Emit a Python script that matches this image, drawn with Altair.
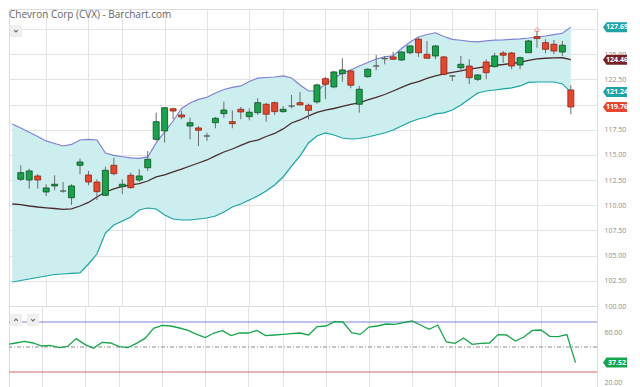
import altair as alt
import pandas as pd

TITLE = "Chevron Corp (CVX) - Barchart.com"

# ---- daily candles (index 0..65) ----
opens = [112.58, 112.51, 112.91, 111.32, 111.92, 111.42, 110.75, 113.97, 113.01, 112.31,
         110.99, 113.97, 111.85, 112.98, 112.51, 113.73, 116.55, 117.38, 119.59, 118.97,
         117.87, 117.68, 116.88, 118.20, 119.10, 118.30, 119.53, 118.80, 119.20, 120.03,
         120.19, 119.30, 119.86, 120.19, 119.93, 120.26, 122.57, 121.75, 123.07, 123.34,
         120.03, 122.77, 123.83, 124.56, 124.73, 124.43, 125.15, 126.49, 124.99, 124.83,
         124.73, 122.84, 123.66, 123.83, 122.51, 124.23, 123.77, 125.12, 125.12, 123.93,
         125.15, 126.75, 126.15, 125.99, 125.22, 121.45]
highs = [113.97, 113.63, 113.08, 112.09, 112.98, 112.31, 112.09, 114.63, 113.41, 112.58,
         113.83, 114.73, 112.58, 113.24, 113.58, 115.39, 119.20, 119.76, 119.69, 119.36,
         118.70, 117.87, 117.21, 118.77, 120.29, 119.43, 119.76, 119.63, 120.63, 120.19,
         120.29, 119.86, 120.95, 121.25, 120.09, 122.08, 122.74, 123.34, 124.60, 123.41,
         121.85, 123.60, 124.93, 124.83, 125.25, 125.32, 125.89, 126.65, 126.32, 125.92,
         124.83, 122.91, 124.83, 124.50, 123.01, 124.50, 125.15, 125.32, 125.22, 124.76,
         126.42, 127.31, 126.49, 126.42, 126.32, 121.92]
lows = [112.41, 111.65, 111.65, 110.92, 111.49, 111.25, 110.03, 113.08, 111.99, 110.53,
        110.92, 112.98, 111.09, 111.65, 112.31, 113.41, 116.39, 116.22, 118.54, 118.54,
        116.55, 115.89, 116.39, 117.65, 118.70, 117.65, 118.54, 118.44, 118.97, 118.30,
        118.97, 119.20, 119.63, 119.96, 118.54, 120.09, 120.53, 121.62, 122.27, 121.62,
        119.20, 122.67, 123.41, 124.00, 124.43, 124.33, 124.99, 124.73, 124.60, 124.50,
        122.91, 122.34, 123.34, 122.02, 122.34, 122.51, 123.66, 124.16, 123.51, 123.51,
        125.15, 125.65, 125.09, 124.99, 124.83, 119.04]
closes = [113.24, 113.41, 112.51, 111.72, 112.09, 111.42, 111.92, 114.30, 112.31, 111.35,
          113.48, 113.14, 112.09, 111.75, 112.91, 114.57, 118.30, 119.69, 119.36, 118.77,
          118.20, 117.45, 116.88, 118.64, 119.46, 118.10, 119.27, 119.24, 120.19, 119.04,
          119.30, 119.53, 119.86, 119.96, 119.43, 121.95, 122.02, 123.24, 123.44, 121.92,
          121.52, 123.51, 123.83, 124.56, 124.50, 125.22, 125.82, 125.15, 124.60, 125.82,
          123.01, 122.84, 124.00, 122.67, 122.94, 123.17, 124.83, 124.90, 123.83, 124.66,
          126.32, 126.55, 125.49, 125.32, 125.89, 119.76]

# ---- Bollinger bands & RSI (index -1..65) ----
upper = [118.07, 117.68, 117.26, 116.83, 116.39, 116.14, 115.89, 116.04, 116.48, 116.55, 116.48,
         115.19, 114.95, 114.82, 114.70, 114.65, 114.80, 116.19, 117.28, 118.37, 119.61,
         120.16, 120.51, 120.73, 121.15, 121.50, 121.70, 121.85, 122.29, 122.62, 122.69,
         122.74, 122.84, 122.64, 121.95, 121.35, 121.35, 122.05, 122.59, 123.14, 123.44,
         123.83, 124.18, 124.53, 124.73, 124.83, 125.57, 126.22, 126.71, 126.96, 127.13,
         126.76, 126.48, 126.39, 126.27, 126.22, 126.32, 126.39, 126.42, 126.47, 126.53,
         126.61, 126.71, 126.81, 126.94, 127.08, 127.69]
middle = [110.13, 110.06, 109.93, 109.83, 109.75, 109.68, 109.60, 109.65, 109.93, 110.28, 110.82,
          111.32, 111.62, 111.87, 112.02, 112.14, 112.41, 112.81, 113.01, 113.31, 113.60,
          113.90, 114.20, 114.50, 114.90, 115.29, 115.59, 115.94, 116.29, 116.48, 116.83,
          117.13, 117.58, 118.17, 118.47, 118.87, 119.22, 119.46, 119.61, 119.81, 120.01,
          120.18, 120.46, 120.71, 121.00, 121.35, 121.70, 122.05, 122.29, 122.59, 122.84,
          123.04, 123.19, 123.34, 123.51, 123.65, 123.78, 123.90, 123.98, 124.08, 124.18,
          124.38, 124.53, 124.60, 124.63, 124.65, 124.46]
lower = [102.38, 102.53, 102.68, 102.83, 102.98, 103.13, 103.18, 103.23, 103.28, 104.17, 105.16,
         107.25, 108.04, 108.44, 108.84, 109.53, 109.73, 109.63, 109.04, 108.64, 108.54,
         108.54, 108.64, 108.74, 108.94, 109.33, 109.83, 110.13, 110.53, 110.92, 111.42,
         112.02, 112.81, 113.90, 114.90, 116.19, 116.88, 117.18, 116.98, 116.68, 116.58,
         116.63, 116.78, 116.98, 117.18, 117.48, 117.87, 118.27, 118.57, 118.77, 119.07,
         119.17, 119.46, 119.96, 120.56, 121.15, 121.35, 121.45, 121.55, 121.65, 121.85,
         122.20, 122.24, 122.24, 122.24, 122.05, 121.24]
rsi = [52.0, 53.2, 54.5, 53.2, 50.8, 51.3, 49.5, 50.5, 56.7, 52.1, 48.9,
       53.7, 53.2, 50.3, 49.5, 52.9, 56.9, 64.9, 67.3, 66.8, 65.2,
       63.3, 60.1, 57.5, 61.2, 63.1, 59.1, 61.2, 61.2, 63.3, 59.1,
       59.6, 60.1, 60.7, 61.2, 59.6, 66.3, 66.8, 70.3, 70.0, 61.5,
       60.1, 66.0, 66.8, 68.4, 68.1, 69.5, 70.8, 67.6, 64.1, 67.6,
       54.0, 52.9, 57.2, 52.1, 52.9, 53.2, 59.9, 59.6, 54.8, 58.0,
       63.3, 63.6, 58.5, 58.3, 59.9, 37.52]

grid_idx = [3, 8, 12, 17, 22, 27, 31, 36, 41, 46, 51, 56, 61]
price_ticks = [100.0, 102.5, 105.0, 107.5, 110.0, 112.5, 115.0, 117.5, 120.0, 122.5, 125.0, 127.5]
hidden_price_labels = [120.0, 127.5]   # covered by the value badges in the reference
rsi_ticks = [20, 60]
rsi_levels = [70, 30]
rsi_level_colors = ["#7d82d8", "#cf6b6b"]
rsi_mid = [50]
high_marker_idx = [61]
high_marker_val = [127.55]

badge_vals = [127.69, 124.46, 121.24, 119.76]
badge_cols = ["#1fa3a7", "#7a1f25", "#1fa3a7", "#e8462d"]
rsi_badge_vals = [37.52]
rsi_badge_cols = ["#13a54b"]

# ---- frames ----
n = len(opens)
candles = pd.DataFrame({"idx": list(range(n)), "open": opens, "high": highs,
                        "low": lows, "close": closes})
candles["dir"] = ["up" if c > o else ("down" if c < o else "flat") for o, c in zip(opens, closes)]
band_idx = list(range(-1, n))
bands = pd.DataFrame({"idx": band_idx, "upper": upper, "middle": middle, "lower": lower})
rsi_df = pd.DataFrame({"idx": band_idx, "rsi": rsi})
badges = pd.DataFrame({"value": badge_vals, "color": badge_cols,
                       "label": [f"{v:.2f}" for v in badge_vals]})
rsi_badges = pd.DataFrame({"value": rsi_badge_vals, "color": rsi_badge_cols,
                           "label": [f"{v:.2f}" for v in rsi_badge_vals]})
marker = pd.DataFrame({"idx": high_marker_idx, "value": high_marker_val})
levels = pd.DataFrame({"level": rsi_levels, "color": rsi_level_colors})
mid = pd.DataFrame({"level": rsi_mid})

W = 588
MAIN_H = 297
RSI_H = 82
FONT = "Open Sans"
GRID = "#e3e3e3"

xscale = alt.Scale(domain=[-0.8, 67.5], nice=False, zero=False)
xaxis = alt.Axis(values=grid_idx, labels=False, ticks=False, domain=False, title=None,
                 grid=True, gridColor=GRID, gridWidth=1)


def X():
    return alt.X("idx:Q", scale=xscale, axis=xaxis)


hide_expr = " || ".join(f"datum.value == {v}" for v in hidden_price_labels)
pscale = alt.Scale(domain=[100, 129.49], nice=False, zero=False)
paxis = alt.Axis(orient="right", values=price_ticks, format=".2f", title=None,
                 labelExpr=f"({hide_expr}) ? '' : datum.label",
                 labelFont=FONT, labelFontSize=7, labelColor="#8c8c8c", labelPadding=7,
                 ticks=False, domain=False, grid=True, gridColor=GRID, zindex=0)


def P(field):
    return alt.Y(f"{field}:Q", scale=pscale, axis=paxis)


BADGE = "M-1.2,0L-0.85,-0.5L1.2,-0.5L1.2,0.5L-0.85,0.5Z"

band_area = alt.Chart(bands).mark_area(color="#cdeeee", clip=True).encode(
    x=X(), y=P("lower"), y2="upper:Q")
up_line = alt.Chart(bands).mark_line(color="#7d82d8", strokeWidth=1.2, clip=True).encode(
    x=X(), y=P("upper"))
lo_line = alt.Chart(bands).mark_line(color="#1aa3a3", strokeWidth=1.2, clip=True).encode(
    x=X(), y=P("lower"))
mid_line = alt.Chart(bands).mark_line(color="#4a2b2e", strokeWidth=1.3, clip=True).encode(
    x=X(), y=P("middle"))

dir_dom = ["up", "down", "flat"]
wicks = alt.Chart(candles).mark_rule(color="#6d6d6d", strokeWidth=1).encode(
    x=X(), y=P("low"), y2="high:Q")
bodies = alt.Chart(candles).mark_bar(size=6, strokeWidth=0.8).encode(
    x=X(), y=P("open"), y2="close:Q",
    fill=alt.Fill("dir:N", scale=alt.Scale(domain=dir_dom, range=["#17a34a", "#e8452c", "#505050"]), legend=None),
    stroke=alt.Stroke("dir:N", scale=alt.Scale(domain=dir_dom, range=["#0d4f25", "#8e2414", "#505050"]), legend=None))

caret = alt.Chart(marker).mark_point(shape="M-1,0.6L0,-0.4L1,0.6M-1,1L1,1", filled=False,
                                     color="#e06a6a", size=28, strokeWidth=1).encode(
    x=X(), y=P("value"))

badge_shape = alt.Chart(badges).mark_point(shape=BADGE, filled=True, size=400, opacity=1,
                                           strokeWidth=0).encode(
    y=P("value"), x=alt.value(606), fill=alt.Fill("color:N", scale=None))
badge_text = alt.Chart(badges).mark_text(font=FONT, fontSize=7, fontWeight="bold", color="white",
                                         align="center", baseline="middle").encode(
    y=P("value"), x=alt.value(608), text="label:N")

title = alt.Chart(pd.DataFrame({"t": [TITLE]})).mark_text(
    font=FONT, fontSize=10, color="#666666", align="left", baseline="middle").encode(
    x=alt.value(0), y=alt.value(6), text="t:N")
btn = alt.Chart(pd.DataFrame({"b": [0]})).mark_square(size=150, color="#efefef", opacity=1).encode(
    x=alt.value(7), y=alt.value(22))
btn_icon = alt.Chart(pd.DataFrame({"b": [0]})).mark_point(
    shape="M-1,-0.45L0,0.45L1,-0.45", filled=False, color="#333333", size=14, strokeWidth=1.2).encode(
    x=alt.value(7), y=alt.value(22))

main = alt.layer(band_area, up_line, lo_line, mid_line, wicks, bodies, caret,
                 badge_shape, badge_text, title, btn, btn_icon).properties(width=W, height=MAIN_H)

# ---- RSI panel ----
rscale = alt.Scale(domain=[17.2, 82.8], nice=False, zero=False)
raxis = alt.Axis(orient="right", values=rsi_ticks, format=".2f", title=None,
                 labelFont=FONT, labelFontSize=7, labelColor="#8c8c8c", labelPadding=7,
                 labelOffset=-2, ticks=False, domain=False, grid=False, zindex=0)


def R(field):
    return alt.Y(f"{field}:Q", scale=rscale, axis=raxis)


lvl = alt.Chart(levels).mark_rule(strokeWidth=1).encode(
    y=R("level"), color=alt.Color("color:N", scale=None))
mid_rule = alt.Chart(mid).mark_rule(strokeWidth=1, color="#8a8a8a", strokeDash=[4, 2, 1, 2]).encode(
    y=R("level"))
ob = alt.Chart(rsi_df).transform_calculate(ob="max(datum.rsi, 70)").mark_area(
    color="#9ea3ef", clip=True).encode(x=X(), y=R("ob"), y2=alt.datum(70))
rsi_line = alt.Chart(rsi_df).mark_line(color="#16a54a", strokeWidth=1.3, clip=True).encode(
    x=X(), y=R("rsi"))
rb_shape = alt.Chart(rsi_badges).mark_point(shape=BADGE, filled=True, size=400, opacity=1,
                                            strokeWidth=0).encode(
    y=R("value"), x=alt.value(606), fill=alt.Fill("color:N", scale=None))
rb_text = alt.Chart(rsi_badges).mark_text(font=FONT, fontSize=7, fontWeight="bold", color="white",
                                          align="center", baseline="middle").encode(
    y=R("value"), x=alt.value(608), text="label:N")
btns = alt.Chart(pd.DataFrame({"bx": [7, 24]})).mark_square(size=150, color="#efefef", opacity=1).encode(
    x=alt.X("bx:Q", scale=None), y=alt.value(14))
up_icon = alt.Chart(pd.DataFrame({"b": [0]})).mark_point(
    shape="M-1,0.45L0,-0.45L1,0.45", filled=False, color="#333333", size=14, strokeWidth=1.2).encode(
    x=alt.value(7), y=alt.value(14))
dn_icon = alt.Chart(pd.DataFrame({"b": [0]})).mark_point(
    shape="M-1,-0.45L0,0.45L1,-0.45", filled=False, color="#333333", size=14, strokeWidth=1.2).encode(
    x=alt.value(24), y=alt.value(14))

rsi_chart = alt.layer(lvl, mid_rule, ob, rsi_line, rb_shape, rb_text, btns, up_icon, dn_icon).properties(
    width=W, height=RSI_H)

chart = alt.vconcat(main, rsi_chart, spacing=0).properties(
    padding=0, bounds="flush", background="white"
).configure_view(stroke="#dddddd", strokeWidth=1)

chart.save("out.html", embed_options={"renderer": "svg", "actions": False})
